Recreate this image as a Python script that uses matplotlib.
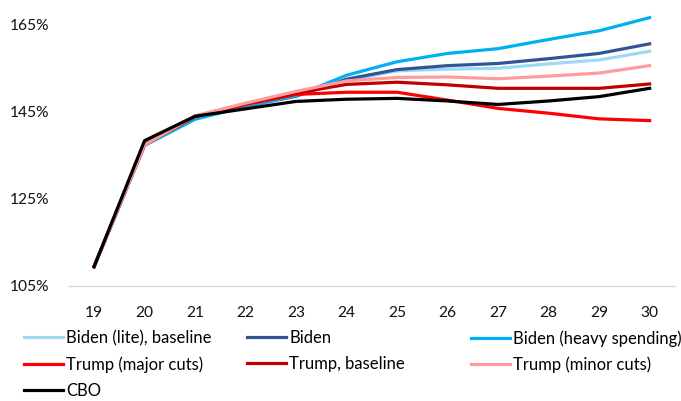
import matplotlib.pyplot as plt
from matplotlib.lines import Line2D

plt.rcParams['font.family'] = ['Lato', 'DejaVu Sans']

# debt-to-GDP paths, years 2019-2030
years = ['19', '20', '21', '22', '23', '24', '25', '26', '27', '28', '29', '30']

biden_lite = [109.4, 137.3, 143.5, 146.3, 148.6, 152.1, 154.3, 154.7, 154.9, 155.9, 156.8, 158.8]
biden = [109.4, 137.3, 143.4, 146.2, 148.5, 152.4, 154.6, 155.5, 156.0, 157.1, 158.3, 160.5]
biden_heavy = [109.4, 137.2, 143.2, 146.1, 148.6, 153.3, 156.4, 158.3, 159.4, 161.5, 163.5, 166.5]
trump_major = [109.4, 137.4, 143.8, 146.6, 148.9, 149.4, 149.4, 147.6, 145.7, 144.6, 143.3, 142.9]
trump_base = [109.4, 137.4, 143.9, 146.7, 149.2, 151.2, 151.7, 151.1, 150.3, 150.3, 150.3, 151.3]
trump_minor = [109.4, 137.3, 144.0, 146.9, 149.6, 152.0, 152.8, 152.9, 152.5, 153.1, 153.8, 155.5]
cbo = [109.4, 138.3, 143.9, 145.6, 147.3, 147.8, 148.0, 147.4, 146.6, 147.4, 148.4, 150.3]

series = [
    ('Biden (lite), baseline', biden_lite, '#9DD9F7'),
    ('Biden', biden, '#2F5597'),
    ('Biden (heavy spending)', biden_heavy, '#00B0F0'),
    ('Trump (major cuts)', trump_major, '#FF0000'),
    ('Trump, baseline', trump_base, '#C00000'),
    ('Trump (minor cuts)', trump_minor, '#FF9B9B'),
    ('CBO', cbo, '#000000'),
]

fig = plt.figure(figsize=(6.81, 4.01), dpi=100)
ax = fig.add_axes([0.101, 0.287, 0.890, 0.707])

x = range(len(years))
for name, vals, col in series:
    ax.plot(x, vals, color=col, lw=2.3, solid_joinstyle='round')

ax.set_xlim(-0.5, len(years) - 0.5)
ax.set_ylim(105, 170)
ax.set_yticks([105, 125, 145, 165])
ax.set_yticklabels(['105%', '125%', '145%', '165%'])
ax.set_xticks(list(x))
ax.set_xticklabels(years)
ax.tick_params(axis='both', length=0, labelsize=11.2, colors='#111111')
ax.tick_params(axis='y', pad=14)
ax.tick_params(axis='x', pad=14.5)

for s in ['top', 'right', 'left']:
    ax.spines[s].set_visible(False)
ax.spines['bottom'].set_color('#D9D9D9')
ax.spines['bottom'].set_linewidth(1.0)

# legend laid out as three evenly spaced columns, like the original
cols = [[0, 3, 6], [1, 4], [2, 5]]
xpos = [0.035, 0.363, 0.691]
for idxs, xp in zip(cols, xpos):
    handles = [Line2D([], [], color=series[i][2], lw=2.3) for i in idxs]
    labels = [series[i][0] for i in idxs]
    fig.legend(handles, labels, loc='upper left', bbox_to_anchor=(xp, 0.177),
               frameon=False, fontsize=12, handlelength=2.35, handletextpad=0.18,
               labelspacing=0.6, borderpad=0, borderaxespad=0)

fig.savefig('out.png', dpi=100)
